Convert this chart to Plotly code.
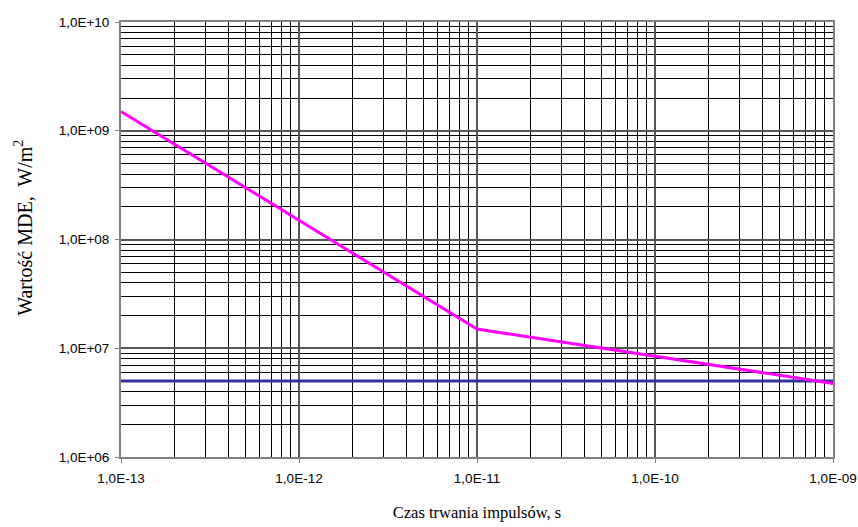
import plotly.graph_objects as go

# Data
t_mde = [1e-13, 1e-11, 1e-9]
mde_limit = [1.5e9, 1.5e7, 4.75e6]
t_const = [1e-13, 1e-9]
const_val = [5e6, 5e6]

x_ticks = [1e-13, 1e-12, 1e-11, 1e-10, 1e-9]
x_ticktext = ["1,0E-13", "1,0E-12", "1,0E-11", "1,0E-10", "1,0E-09"]
y_ticks = [1e6, 1e7, 1e8, 1e9, 1e10]
y_ticktext = ["1,0E+06", "1,0E+07", "1,0E+08", "1,0E+09", "1,0E+10"]

x_minor = [m * 10.0**e for e in range(-13, -9) for m in range(2, 10)]
y_minor = [m * 10.0**e for e in range(6, 10) for m in range(2, 10)]

fig = go.Figure()
fig.add_trace(go.Scatter(x=t_const, y=const_val, mode="lines",
                         line=dict(color="#333399", width=3), showlegend=False))
fig.add_trace(go.Scatter(x=t_mde, y=mde_limit, mode="lines",
                         line=dict(color="#FF00FF", width=3), showlegend=False))

axis_common = dict(
    type="log", automargin=False,
    showline=True, linecolor="#808080", linewidth=2, mirror=True,
    showgrid=True, gridcolor="#555555", gridwidth=1.5,
    ticks="outside", ticklen=4, tickcolor="#808080",
    tickfont=dict(family="Liberation Sans, Arial", size=13.5, color="black"),
    zeroline=False,
)

fig.update_xaxes(**axis_common, range=[-13, -9], tickmode="array",
                 tickvals=x_ticks, ticktext=x_ticktext, ticklabelstandoff=4,
                 minor=dict(tickmode="array", tickvals=x_minor, showgrid=True,
                            gridcolor="black", gridwidth=1, ticks=""),
                 title=dict(text="Czas trwania impulsów, s", standoff=21,
                            font=dict(family="Liberation Serif, Times New Roman", size=16.5, color="black")))
fig.update_yaxes(**axis_common, range=[6, 10], tickmode="array",
                 tickvals=y_ticks, ticktext=y_ticktext, ticklabelstandoff=3,
                 minor=dict(tickmode="array", tickvals=y_minor, showgrid=True,
                            gridcolor="black", gridwidth=1, ticks=""))

fig.add_annotation(text="Wartość MDE,  W/m<sup>2</sup>", xref="paper", yref="paper",
                   x=-0.1376, y=0.527, xanchor="center", yanchor="middle",
                   textangle=-90, showarrow=False,
                   font=dict(family="Liberation Serif, Times New Roman", size=20, color="black"))

fig.update_layout(
    width=858, height=527,
    margin=dict(l=121, r=25, t=22, b=70),
    paper_bgcolor="white", plot_bgcolor="white",
)

fig.write_html("out.html", config={"displayModeBar": False},
               post_script="document.body.style.margin='0';document.body.style.overflow='hidden';")
